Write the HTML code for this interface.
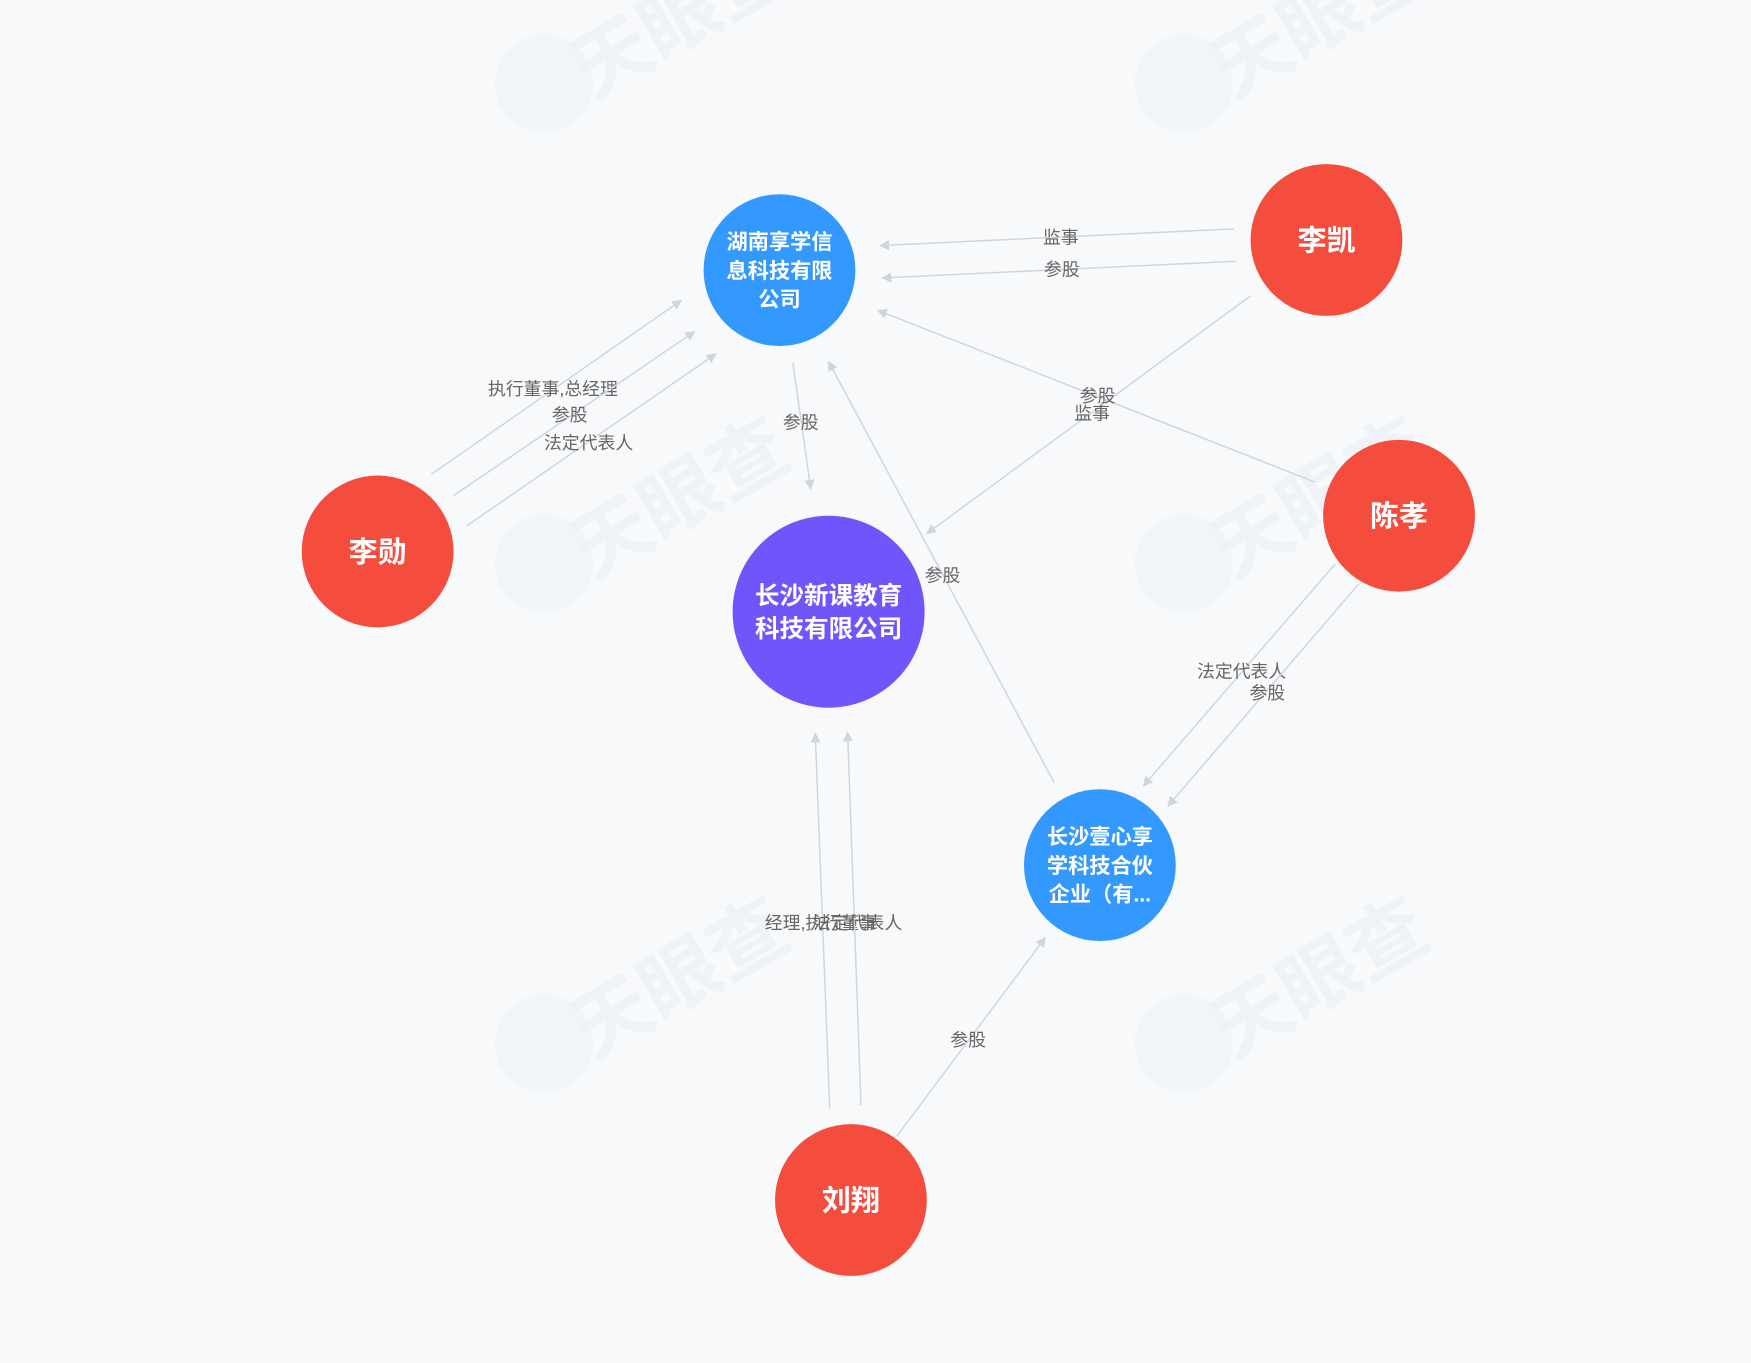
<!DOCTYPE html>
<html><head><meta charset="utf-8">
<style>
html,body{margin:0;padding:0;background:#f7f9fb;}
svg{display:block;font-family:"Liberation Sans","Noto Sans CJK SC",sans-serif;}
.edge{stroke:#cfd5dc;stroke-width:1.3;fill:none;}
.elabel{fill:#666;font-size:16px;text-anchor:middle;}
.nlabel{fill:#fff;font-weight:bold;text-anchor:middle;}
.wm{fill:#e6edf4;opacity:0.45;font-weight:bold;}
</style></head>
<body>
<svg id="chart" width="1751" height="1363" viewBox="0 0 1568 1221" xmlns="http://www.w3.org/2000/svg">
<defs>
<marker id="arr" viewBox="0 0 10 10" refX="9" refY="5" markerWidth="9" markerHeight="9" orient="auto-start-reverse" markerUnits="userSpaceOnUse">
<path d="M0,0 L10,5 L0,10 z" fill="#cfd5dc"/>
</marker>
</defs>
<g id="watermarks"></g>
<g id="edges"></g>
<g id="nodes"></g>
</svg>
<script>
const nodeNames = ["湖南享学信息科技有限公司","李凯","李勋","长沙新课教育科技有限公司","陈孝","长沙壹心享学科技合伙企业（有...","刘翔"];
const nodeLines = [["湖南享学信","息科技有限","公司"],["李凯"],["李勋"],["长沙新课教育","科技有限公司"],["陈孝"],["长沙壹心享","学科技合伙","企业（有..."],["刘翔"]];
const nodeX = [698,1188,338,742,1253,985,762];
const nodeY = [242,215,494,548,462,775,1075];
const nodeR = [68,68,68,86,68,68,68];
const nodeColor = ["#3399ff","#f54d3d","#f54d3d","#7055fb","#f54d3d","#3399ff","#f54d3d"];
const nodeFont = [19,26,26,22,26,19,26];

const edgeLabels = ["监事","参股","监事","参股","执行董事,总经理","参股","法定代表人","参股","参股","法定代表人","参股","经理,执行董事","法定代表人","参股"];
const edgeX1 = [1105,1107,1120,1178,386,406,418,710,944,1196,1217,743,771,803];
const edgeY1 = [205,234,265,432,425,444,471,325,701,505,523,993,990,1018];
const edgeX2 = [788,790,830,786,610,622,641,726,742,1024,1046,730,759,936];
const edgeY2 = [220,249,478,278,269,297,317,438,324,704,722,657,656,840];
const labelX = [950,951,978,983,495,510,527,717,844,1112,1135,735,768,867];
const labelY = [212,241,370,354,348,371,396,378,515,601,620,826,826,931];

const NS="http://www.w3.org/2000/svg";
const wg=document.getElementById('watermarks');
[[0,0],[573,0],[0,430],[573,430],[0,860],[573,860]].forEach(function(p){
  const t=document.createElementNS(NS,'text');
  t.setAttribute('class','wm');
  t.setAttribute('font-size','70');
  t.setAttribute('transform','translate('+(p[0]+530)+','+(p[1]+90)+') rotate(-30)');
  t.textContent='天眼查';
  
  
  wg.appendChild(t);
  const c=document.createElementNS(NS,'circle');
  c.setAttribute('cx',p[0]+487);c.setAttribute('cy',p[1]+75);c.setAttribute('r',44);
  c.setAttribute('fill','#e8eff6');c.setAttribute('opacity','0.4');
  
  
  wg.appendChild(c);
});
const eg=document.getElementById('edges');
for(let i=0;i<edgeLabels.length;i++){
  const l=document.createElementNS(NS,'line');
  l.setAttribute('x1',edgeX1[i]);l.setAttribute('y1',edgeY1[i]);
  l.setAttribute('x2',edgeX2[i]);l.setAttribute('y2',edgeY2[i]);
  l.setAttribute('class','edge');l.setAttribute('marker-end','url(#arr)');
  
  
  eg.appendChild(l);
  const t=document.createElementNS(NS,'text');
  t.setAttribute('x',labelX[i]);t.setAttribute('y',labelY[i]+6);
  t.setAttribute('class','elabel');t.textContent=edgeLabels[i];
  
  
  eg.appendChild(t);
}
const ng=document.getElementById('nodes');
for(let i=0;i<nodeNames.length;i++){
  const g=document.createElementNS(NS,'g');
  
  
  const c=document.createElementNS(NS,'circle');
  c.setAttribute('cx',nodeX[i]);c.setAttribute('cy',nodeY[i]);c.setAttribute('r',nodeR[i]);
  c.setAttribute('fill',nodeColor[i]);
  
  
  g.appendChild(c);
  const lines=nodeLines[i],fs=nodeFont[i],lh=fs*1.35;
  lines.forEach(function(s,k){
    const t=document.createElementNS(NS,'text');
    t.setAttribute('x',nodeX[i]);
    t.setAttribute('y',nodeY[i]+(k-(lines.length-1)/2)*lh+fs*0.36);
    t.setAttribute('class','nlabel');t.setAttribute('font-size',fs);
    t.textContent=s;
    
    
    g.appendChild(t);
  });
  ng.appendChild(g);
}
</script>
</body></html>
